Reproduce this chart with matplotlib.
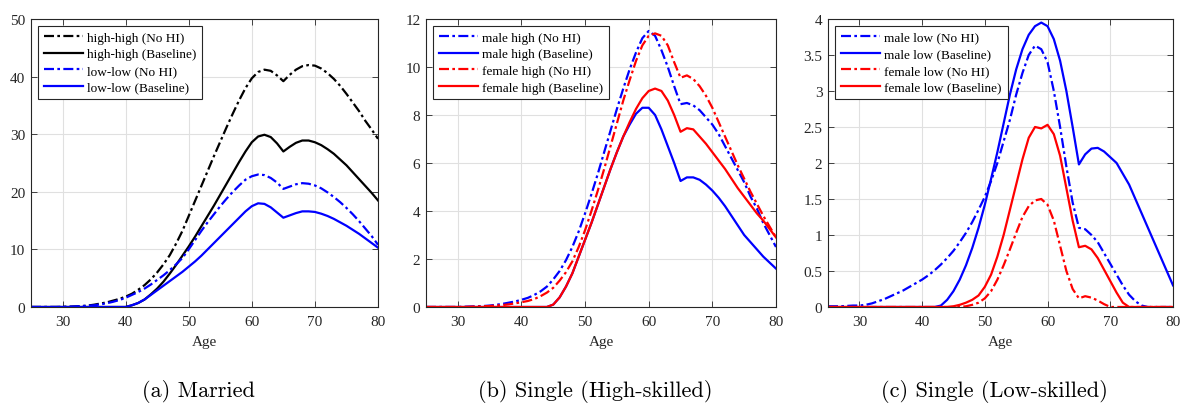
import numpy as np
import matplotlib
matplotlib.use("Agg")
import matplotlib.pyplot as plt

ages = list(range(25, 81))

# Panel (a) Married
hh_nohi = [0, 0, 0, 0, 0, 0.02, 0.05, 0.1, 0.15, 0.25, 0.4, 0.6, 0.8, 1.1, 1.4, 1.8,
           2.3, 3.0, 3.8, 4.8, 6.0, 7.4, 9.0, 11.0, 13.2, 15.8, 18.4, 21.0, 23.6, 26.2,
           28.7, 31.2, 33.6, 35.9, 38.0, 39.7, 40.8, 41.2, 41.0, 40.2, 39.2, 40.3, 41.2,
           41.8, 42.0, 41.9, 41.4, 40.6, 39.6, 38.4, 37.0, 35.5, 34.0, 32.3, 30.8, 29.2]
hh_base = [0]*16 + [0.3, 0.7, 1.3, 2.2, 3.2, 4.4, 5.8, 7.3, 8.9, 10.5, 12.2, 14.0, 15.8,
                    17.6, 19.5, 21.4, 23.3, 25.2, 27.0, 28.6, 29.6, 29.9, 29.5, 28.4, 27.0,
                    27.8, 28.5, 28.9, 28.9, 28.6, 28.1, 27.4, 26.6, 25.6, 24.6, 23.4, 22.2,
                    21.0, 19.8, 18.5]
ll_nohi = [0, 0, 0, 0, 0, 0.02, 0.05, 0.1, 0.15, 0.22, 0.3, 0.45, 0.65, 0.9, 1.2, 1.6,
           2.1, 2.6, 3.2, 3.9, 4.7, 5.5, 6.4, 7.4, 8.5, 10.0, 11.6, 13.2, 14.7, 16.1,
           17.5, 18.8, 20.0, 21.1, 22.1, 22.7, 23.0, 22.9, 22.4, 21.6, 20.5, 20.9, 21.3,
           21.5, 21.4, 21.1, 20.6, 19.9, 19.1, 18.2, 17.2, 16.1, 14.9, 13.6, 12.3, 10.8]
ll_base = [0]*16 + [0.3, 0.7, 1.3, 2.1, 2.9, 3.7, 4.5, 5.3, 6.1, 7.0, 7.9, 8.9, 10.0,
                    11.1, 12.2, 13.3, 14.4, 15.5, 16.6, 17.5, 18.0, 17.9, 17.3, 16.4, 15.5,
                    15.9, 16.3, 16.6, 16.6, 16.5, 16.2, 15.8, 15.3, 14.7, 14.1, 13.4, 12.7,
                    11.9, 11.1, 10.3]

# Panel (b) Single (High-skilled)
mh_nohi = [0, 0, 0, 0, 0, 0, 0.01, 0.02, 0.03, 0.04, 0.06, 0.09, 0.13, 0.18, 0.23, 0.3,
           0.38, 0.5, 0.65, 0.85, 1.15, 1.5, 1.95, 2.5, 3.15, 3.9, 4.7, 5.55, 6.45, 7.35,
           8.25, 9.1, 9.9, 10.6, 11.2, 11.5, 11.3, 10.7, 10.0, 9.2, 8.45, 8.5, 8.4, 8.2,
           7.9, 7.6, 7.2, 6.7, 6.2, 5.7, 5.2, 4.6, 4.1, 3.5, 3.0, 2.5]
mh_base = [0]*20 + [0.1, 0.4, 0.85, 1.4, 2.1, 2.8, 3.5, 4.25, 5.0, 5.75, 6.45, 7.1, 7.6,
                    8.05, 8.3, 8.3, 8.0, 7.4, 6.7, 6.0, 5.25, 5.4, 5.4, 5.3, 5.1, 4.85,
                    4.55, 4.2, 3.8, 3.4, 3.0, 2.7, 2.4, 2.1, 1.85, 1.6]
fh_nohi = [0, 0, 0, 0, 0, 0, 0, 0.01, 0.02, 0.03, 0.04, 0.06, 0.08, 0.11, 0.15, 0.2,
           0.25, 0.33, 0.45, 0.6, 0.8, 1.1, 1.45, 1.9, 2.5, 3.2, 4.0, 4.85, 5.75, 6.7,
           7.65, 8.6, 9.45, 10.25, 10.9, 11.3, 11.4, 11.3, 10.9, 10.2, 9.55, 9.65, 9.5,
           9.2, 8.8, 8.3, 7.7, 7.1, 6.5, 5.9, 5.35, 4.8, 4.3, 3.8, 3.35, 2.9]
fh_base = [0]*20 + [0.1, 0.4, 0.85, 1.4, 2.1, 2.8, 3.5, 4.25, 5.0, 5.75, 6.45, 7.1, 7.7,
                    8.25, 8.7, 9.0, 9.1, 9.0, 8.6, 8.0, 7.3, 7.45, 7.4, 7.1, 6.8, 6.45,
                    6.1, 5.75, 5.35, 4.95, 4.6, 4.25, 3.9, 3.6, 3.25, 2.9]

# Panel (c) Single (Low-skilled)
ml_nohi = [0.01, 0.01, 0.01, 0.015, 0.02, 0.02, 0.03, 0.05, 0.08, 0.11, 0.15, 0.19, 0.23,
           0.28, 0.33, 0.38, 0.44, 0.51, 0.59, 0.68, 0.78, 0.9, 1.03, 1.18, 1.35, 1.53,
           1.75, 2.0, 2.3, 2.6, 2.95, 3.25, 3.5, 3.63, 3.58, 3.4, 3.0, 2.5, 1.95, 1.45,
           1.1, 1.08, 1.0, 0.9, 0.75, 0.6, 0.45, 0.3, 0.17, 0.08, 0.02, 0, 0, 0, 0, 0]
ml_base = [0]*18 + [0.02, 0.1, 0.22, 0.38, 0.58, 0.82, 1.1, 1.42, 1.78, 2.15, 2.55, 2.95,
                    3.3, 3.58, 3.78, 3.9, 3.95, 3.9, 3.72, 3.42, 3.0, 2.5, 1.98, 2.12,
                    2.2, 2.21, 2.16, 2.08, 2.0, 1.85, 1.7, 1.5, 1.3, 1.1, 0.9, 0.7, 0.5,
                    0.3]
fl_nohi = [0]*22 + [0.01, 0.03, 0.06, 0.12, 0.22, 0.38, 0.58, 0.8, 1.03, 1.25, 1.4, 1.48,
                    1.5, 1.42, 1.2, 0.85, 0.5, 0.25, 0.12, 0.15, 0.13, 0.09, 0.04, 0] + [0]*10
fl_base = [0]*20 + [0.01, 0.03, 0.06, 0.1, 0.16, 0.28, 0.45, 0.7, 1.0, 1.35, 1.7, 2.05,
                    2.35, 2.5, 2.48, 2.53, 2.4, 2.1, 1.65, 1.2, 0.83, 0.85, 0.8, 0.68,
                    0.52, 0.36, 0.2, 0.06, 0] + [0]*7

plt.rcParams['font.family'] = ['Liberation Serif', 'DejaVu Serif']
plt.rcParams['axes.unicode_minus'] = False

fig = plt.figure(figsize=(11.82, 4.06), dpi=100)

DD = (0, (4.5, 1.5, 1.2, 1.5))
lw = 1.6

panels = [
    dict(pos=[0.0262, 0.2414, 0.2936, 0.7094], ylim=(0, 50), yticks=[0, 10, 20, 30, 40, 50],
         yfmt=None, caption='(a) Married',
         series=[(hh_nohi, 'k', DD, 'high-high (No HI)'),
                 (hh_base, 'k', '-', 'high-high (Baseline)'),
                 (ll_nohi, 'b', DD, 'low-low (No HI)'),
                 (ll_base, 'b', '-', 'low-low (Baseline)')]),
    dict(pos=[0.3604, 0.2414, 0.2961, 0.7094], ylim=(0, 12), yticks=[0, 2, 4, 6, 8, 10, 12],
         yfmt=None, caption='(b) Single (High-skilled)',
         series=[(mh_nohi, 'b', DD, 'male high (No HI)'),
                 (mh_base, 'b', '-', 'male high (Baseline)'),
                 (fh_nohi, 'r', DD, 'female high (No HI)'),
                 (fh_base, 'r', '-', 'female high (Baseline)')]),
    dict(pos=[0.7005, 0.2414, 0.2919, 0.7094], ylim=(0, 4),
         yticks=[0, 0.5, 1, 1.5, 2, 2.5, 3, 3.5, 4],
         yfmt=['0', '0.5', '1', '1.5', '2', '2.5', '3', '3.5', '4'],
         caption='(c) Single (Low-skilled)',
         series=[(ml_nohi, 'b', DD, 'male low (No HI)'),
                 (ml_base, 'b', '-', 'male low (Baseline)'),
                 (fl_nohi, 'r', DD, 'female low (No HI)'),
                 (fl_base, 'r', '-', 'female low (Baseline)')]),
]

for p in panels:
    ax = fig.add_axes(p['pos'])
    for vals, col, ls, lab in p['series']:
        ax.plot(ages, vals, color=col, linestyle=ls, linewidth=lw, label=lab)
    ax.set_xlim(25, 80)
    ax.set_ylim(*p['ylim'])
    ax.set_xticks([30, 40, 50, 60, 70, 80])
    ax.set_yticks(p['yticks'])
    if p['yfmt']:
        ax.set_yticklabels(p['yfmt'])
    ax.grid(True, color='#e0e0e0', linewidth=0.8)
    ax.set_axisbelow(True)
    ax.tick_params(direction='in', top=True, right=True, length=4, width=0.6,
                   labelsize=11, labelcolor='#262626', color='#262626')
    ax.tick_params(axis='x', pad=6)
    ax.tick_params(axis='y', pad=4)
    for s in ax.spines.values():
        s.set_linewidth(0.8)
        s.set_color('#262626')
    ax.set_xlabel('Age', fontsize=11, color='#262626', labelpad=5)
    leg = ax.legend(loc='upper left', fontsize=9.5, handlelength=3.0, handletextpad=0.3,
                    borderpad=0.45, labelspacing=0.33, borderaxespad=0.5, fancybox=False,
                    framealpha=1, edgecolor='#262626')
    leg.get_frame().set_linewidth(0.8)
    l, b, w, h = p['pos']
    fig.text(l + w / 2 - 0.005, 0.035, p['caption'], ha='center', va='center',
             fontsize=16, family='cmr10')

fig.savefig('out.png', dpi=100)
